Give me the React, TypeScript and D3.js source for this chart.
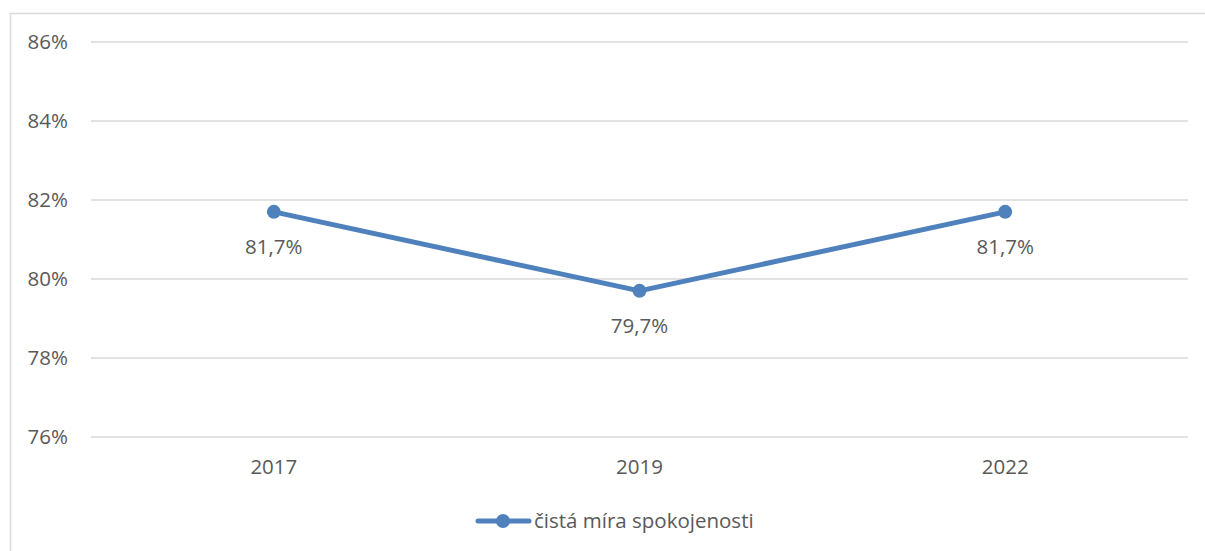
import React from "react";
import * as d3 from "d3";

const categories = ["2017", "2019", "2022"];
const values = [81.7, 79.7, 81.7];
const dataLabels = ["81,7%", "79,7%", "81,7%"];
const yTicks = [76, 78, 80, 82, 84, 86];
const seriesName = "čistá míra spokojenosti";

const W = 1205;
const H = 551;
const FONT = "'Open Sans', Lato, sans-serif";
const BLUE = "#4f81bd";
const TEXT = "#595959";
const FS = 20.5;

export default function App() {
  const left = 91, right = 1188, top = 42, bottom = 437;
  const x = d3.scaleBand<string>().domain(categories).range([left, right]);
  const y = d3.scaleLinear().domain([76, 86]).range([bottom, top]);
  const cx = (c: string) => (x(c) as number) + x.bandwidth() / 2;
  const line = d3
    .line<number>()
    .x((_, i) => cx(categories[i]))
    .y((d) => y(d));

  return (
    <svg
      width={W}
      height={H}
      style={{ position: "absolute", left: 0, top: 0, background: "#fff" }}
      fontFamily={FONT}
    >
      <rect x={10.5} y={13.5} width={1210} height={560} fill="#fff" stroke="#d9d9d9" strokeWidth={1.5} />
      {yTicks.map((t) => (
        <g key={t}>
          <line x1={left} x2={right} y1={y(t)} y2={y(t)} stroke="#d9d9d9" strokeWidth={1.5} />
          <text x={68} y={y(t)} dy="0.35em" textAnchor="end" fontSize={FS} fill={TEXT}>
            {t}%
          </text>
        </g>
      ))}
      {categories.map((c) => (
        <text key={c} x={cx(c)} y={467} dy="0.35em" textAnchor="middle" fontSize={FS} fill={TEXT}>
          {c}
        </text>
      ))}
      <path d={line(values) || ""} fill="none" stroke={BLUE} strokeWidth={5} strokeLinejoin="round" strokeLinecap="round" />
      {values.map((v, i) => (
        <g key={i}>
          <circle cx={cx(categories[i])} cy={y(v)} r={7} fill={BLUE} />
          <text x={cx(categories[i])} y={y(v) + 35} dy="0.35em" textAnchor="middle" fontSize={FS} fill={TEXT}>
            {dataLabels[i]}
          </text>
        </g>
      ))}
      <g>
        <line x1={478} x2={529} y1={521} y2={521} stroke={BLUE} strokeWidth={5} strokeLinecap="round" />
        <circle cx={503} cy={521} r={7} fill={BLUE} />
        <text x={534} y={521} dy="0.35em" fontSize={FS} fill={TEXT}>
          {seriesName}
        </text>
      </g>
    </svg>
  );
}
